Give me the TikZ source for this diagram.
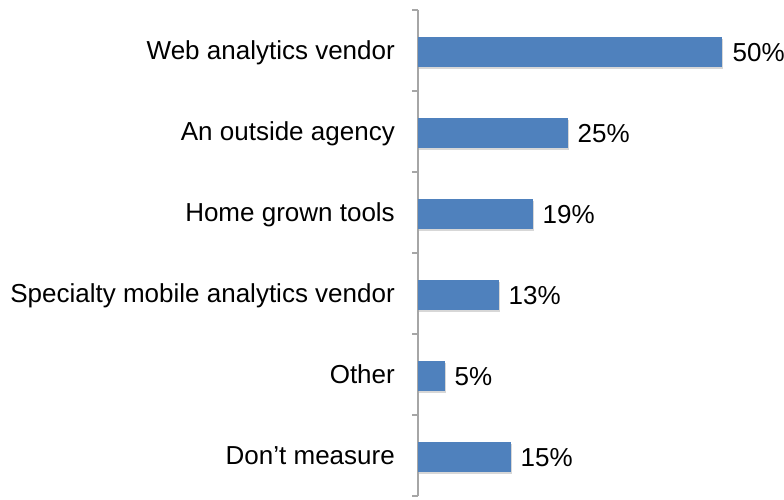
\documentclass[tikz,border=0pt]{standalone}
\usepackage{fontspec}
\setmainfont{Liberation Sans}
\usetikzlibrary{shadows}
\definecolor{barblue}{HTML}{4F81BD}
\definecolor{axisgray}{HTML}{A6A6A6}
\tikzset{
  bar/.style={fill=barblue, draw=none, anchor=west, minimum height=30pt, inner sep=0pt,
    drop shadow={shadow xshift=1pt, shadow yshift=-1.5pt, fill=black!35, opacity=0.45}},
  cat/.style={anchor=base east, inner sep=0pt, font=\fontsize{26}{30}\selectfont},
  val/.style={anchor=base west, inner sep=0pt, font=\fontsize{26}{30}\selectfont},
  axisline/.style={draw=axisgray, line width=1.2pt},
}
\begin{document}
\begin{tikzpicture}[x=1pt,y=-1pt]
\useasboundingbox (0,0) rectangle (784,499);
% axis
\coordinate (atop) at (418,10);
\coordinate (abot) at (418,496);
\draw[axisline] (atop) -- (abot);
\foreach \t in {10,91,172,253,334,415,496} {
  \coordinate (tk\t) at (418,\t);
  \draw[axisline] (tk\t) -- ++(-6,0);
}
% bars
\node[bar, minimum width=304pt] (b1) at (418,52) {};
\node[bar, minimum width=150pt] (b2) at (418,133) {};
\node[bar, minimum width=115pt] (b3) at (418,214) {};
\node[bar, minimum width=81pt]  (b4) at (418,295) {};
\node[bar, minimum width=27pt]  (b5) at (418,376) {};
\node[bar, minimum width=93pt]  (b6) at (418,457) {};
% values
\node[val] (v1) at ([xshift=10pt,yshift=-9pt]b1.east) {50\%};
\node[val] (v2) at ([xshift=9pt,yshift=-9pt]b2.east) {25\%};
\node[val] (v3) at ([xshift=9pt,yshift=-9pt]b3.east) {19\%};
\node[val] (v4) at ([xshift=9pt,yshift=-9pt]b4.east) {13\%};
\node[val] (v5) at ([xshift=9pt,yshift=-9pt]b5.east) {5\%};
\node[val] (v6) at ([xshift=9pt,yshift=-9pt]b6.east) {15\%};
% categories
\node[cat] (c1) at (395,59.5) {Web analytics vendor};
\node[cat] (c2) at (395,140.5) {An outside agency};
\node[cat] (c3) at (395,221.5) {Home grown tools};
\node[cat] (c4) at (395,302.5) {Specialty mobile analytics vendor};
\node[cat] (c5) at (395,383.5) {Other};
\node[cat] (c6) at (395,464.5) {Don’t measure};
\end{tikzpicture}
\end{document}
